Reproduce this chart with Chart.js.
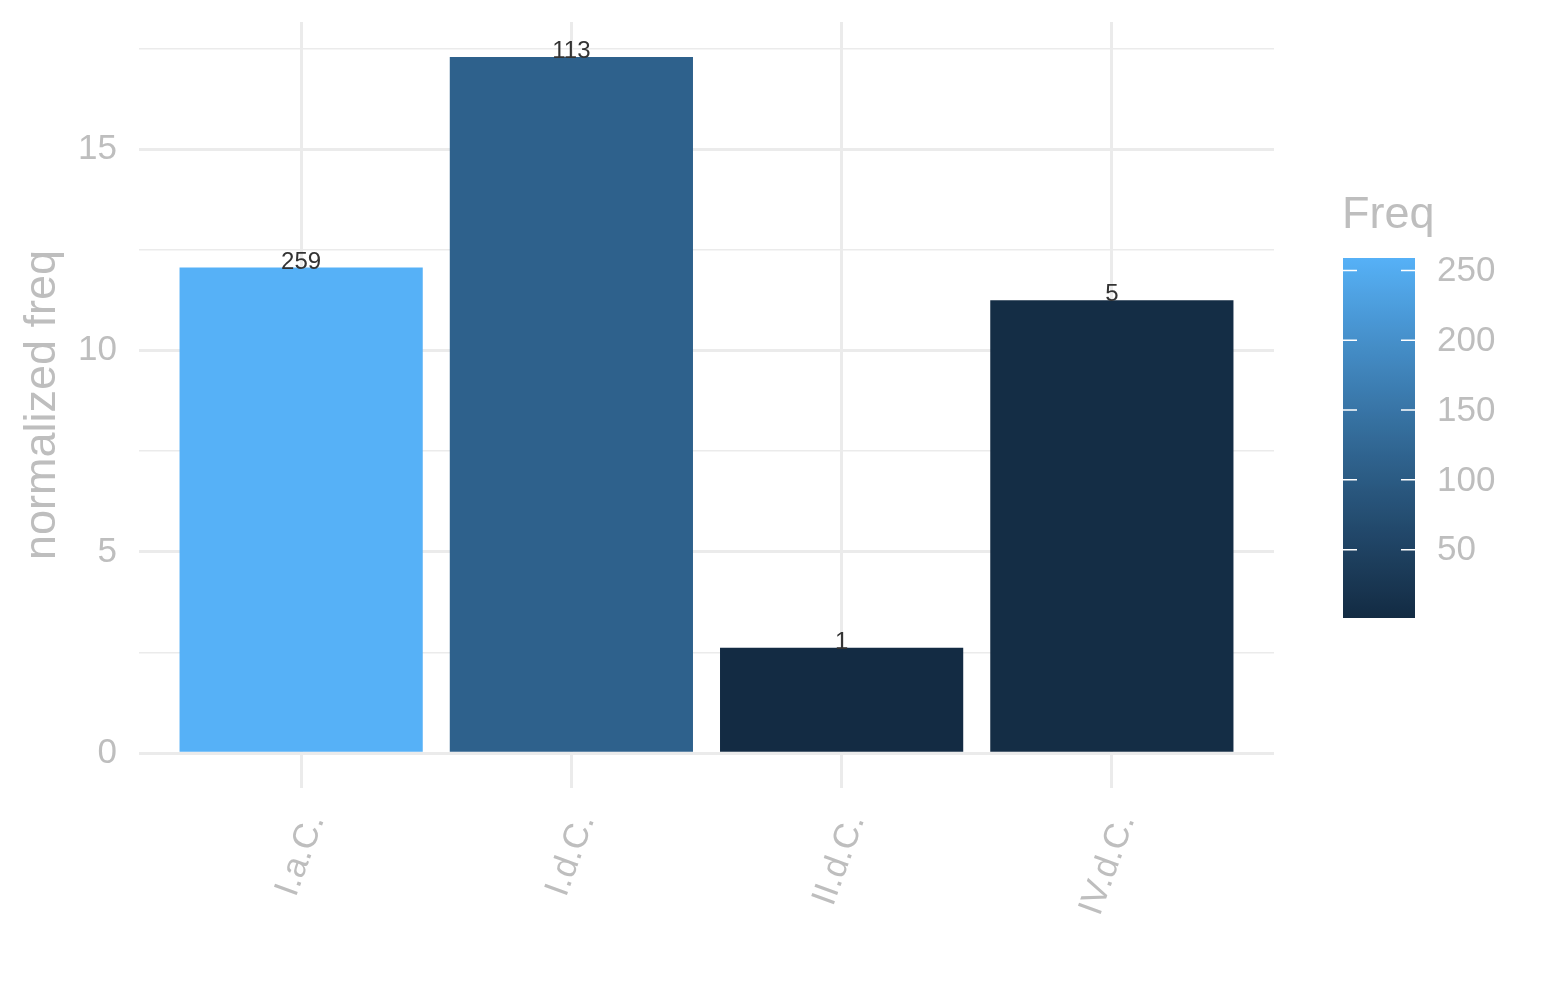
<!DOCTYPE html>
<html>
<head>
<meta charset="utf-8">
<script src="https://cdn.jsdelivr.net/npm/chart.js@4"></script>
<style>
  body { margin: 0; background: #fff; }
  #wrap { width: 1545px; height: 1000px; }
</style>
</head>
<body>
<div id="wrap"><canvas id="freqChart"></canvas></div>
<script>
'use strict'

const categories = ['I.a.C.', 'I.d.C.', 'II.d.C.', 'IV.d.C.'];
const normFreq = [12.06, 17.29, 2.62, 11.25];
const freq = [259, 113, 1, 5];
const yTicks = [0, 2.5, 5, 7.5, 10, 12.5, 15, 17.5];
const legendTicks = [50, 100, 150, 200, 250];

const GREY = '#BEBEBE';
const FONT = '"Liberation Sans", Arial, Helvetica, sans-serif';

/* colour gradient like scale_fill_gradient (lab space) */
const lowCol = [0x13, 0x2B, 0x43];
const highCol = [0x56, 0xB1, 0xF7];

function toLin(c){ c /= 255; return c <= 0.04045 ? c / 12.92 : Math.pow((c + 0.055) / 1.055, 2.4); }
function fromLin(c){ c = c <= 0.0031308 ? 12.92 * c : 1.055 * Math.pow(c, 1 / 2.4) - 0.055; return Math.round(Math.max(0, Math.min(1, c)) * 255); }
function rgb2lab(rgb){
  const r = toLin(rgb[0]), g = toLin(rgb[1]), b = toLin(rgb[2]);
  let x = (r * 0.4124 + g * 0.3576 + b * 0.1805) / 0.95047;
  let y = (r * 0.2126 + g * 0.7152 + b * 0.0722);
  let z = (r * 0.0193 + g * 0.1192 + b * 0.9505) / 1.08883;
  const f = t => t > 0.008856 ? Math.cbrt(t) : 7.787 * t + 16 / 116;
  x = f(x); y = f(y); z = f(z);
  return [116 * y - 16, 500 * (x - y), 200 * (y - z)];
}
function lab2rgb(lab){
  let y = (lab[0] + 16) / 116, x = lab[1] / 500 + y, z = y - lab[2] / 200;
  const fi = t => t * t * t > 0.008856 ? t * t * t : (t - 16 / 116) / 7.787;
  x = fi(x) * 0.95047; y = fi(y); z = fi(z) * 1.08883;
  const r = x * 3.2406 + y * -1.5372 + z * -0.4986;
  const g = x * -0.9689 + y * 1.8758 + z * 0.0415;
  const b = x * 0.0557 + y * -0.2040 + z * 1.0570;
  return 'rgb(' + fromLin(r) + ',' + fromLin(g) + ',' + fromLin(b) + ')';
}
const labLow = rgb2lab(lowCol), labHigh = rgb2lab(highCol);
const fMin = Math.min(...freq), fMax = Math.max(...freq);
function fillFor(v){
  const t = (v - fMin) / (fMax - fMin);
  return lab2rgb(labLow.map((l, i) => l + (labHigh[i] - l) * t));
}

/* labels above bars */
const barLabels = {
  id: 'barLabels',
  afterDatasetsDraw(chart){
    const ctx = chart.ctx;
    ctx.save();
    ctx.font = '24px ' + FONT;
    ctx.fillStyle = '#333333';
    ctx.textAlign = 'center';
    ctx.textBaseline = 'alphabetic';
    chart.getDatasetMeta(0).data.forEach((bar, i) => {
      ctx.fillText(String(freq[i]), bar.x, bar.y + 1);
    });
    ctx.restore();
  }
};

/* colourbar legend */
const colourBar = {
  id: 'colourBar',
  afterDraw(chart){
    const ctx = chart.ctx;
    const x0 = 1343, w = 72, top = 258, bot = 618;
    const yOf = v => bot - (v - fMin) / (fMax - fMin) * (bot - top);
    ctx.save();
    const grad = ctx.createLinearGradient(0, bot, 0, top);
    for (let k = 0; k <= 40; k++){
      grad.addColorStop(k / 40, fillFor(fMin + (fMax - fMin) * k / 40));
    }
    ctx.fillStyle = grad;
    ctx.fillRect(x0, top, w, bot - top);

    ctx.strokeStyle = '#ffffff';
    ctx.lineWidth = 1.5;
    ctx.font = '35px ' + FONT;
    ctx.fillStyle = GREY;
    ctx.textAlign = 'left';
    ctx.textBaseline = 'middle';
    legendTicks.forEach(v => {
      const y = yOf(v);
      ctx.beginPath();
      ctx.moveTo(x0, y); ctx.lineTo(x0 + 14, y);
      ctx.moveTo(x0 + w - 14, y); ctx.lineTo(x0 + w, y);
      ctx.stroke();
      ctx.fillText(String(v), 1437, y + 1);
    });

    ctx.font = '45px ' + FONT;
    ctx.fillText('Freq', 1342, 216);
    ctx.restore();
  }
};

const ctx = document.getElementById('freqChart').getContext('2d');

const config = {
  type: 'bar',
  data: {
    datasets: [{
      label: 'normalized freq',
      data: categories.map((c, i) => ({ x: i + 1, y: normFreq[i] })),
      backgroundColor: freq.map(fillFor),
      borderWidth: 0,
      categoryPercentage: 0.9,
      barPercentage: 1.0
    }]
  },
  options: {
    responsive: true,
    maintainAspectRatio: false,
    devicePixelRatio: 1,
    animation: false,
    layout: { padding: { top: 22, right: 271, left: 0, bottom: 0 } },
    plugins: { legend: { display: false }, tooltip: { enabled: false } },
    scales: {
      x: {
        type: 'linear',
        min: 0.4,
        max: 4.6,
        offset: false,
        afterBuildTicks: s => { s.ticks = categories.map((c, i) => ({ value: i + 1 })); },
        afterFit: s => { s.height = 212; s.paddingLeft = 0; s.paddingRight = 0; },
        grid: { color: '#EBEBEB', lineWidth: 3, drawTicks: false, offset: false },
        border: { display: false },
        ticks: {
          autoSkip: false,
          minRotation: 70,
          maxRotation: 70,
          padding: 21,
          labelOffset: 14,
          color: GREY,
          font: { family: FONT, size: 35 },
          callback: v => categories[v - 1]
        }
      },
      y: {
        min: -0.865,
        max: 18.16,
        afterBuildTicks: s => { s.ticks = yTicks.map(v => ({ value: v })); },
        afterFit: s => { s.width = 139; s.paddingTop = 0; s.paddingBottom = 0; },
        grid: {
          color: '#EBEBEB',
          lineWidth: c => (c.tick && c.tick.value % 5 === 0) ? 3 : 1.5,
          drawTicks: false
        },
        border: { display: false },
        ticks: {
          padding: 22,
          color: GREY,
          font: { family: FONT, size: 35 },
          callback: v => (v % 5 === 0 ? String(v) : '')
        },
        title: {
          display: true,
          text: 'normalized freq',
          color: GREY,
          font: { family: FONT, size: 45 },
          padding: { top: 16, bottom: 0 }
        }
      }
    }
  },
  plugins: [barLabels, colourBar]
};

const chart = new Chart(ctx, config);
</script>
</body>
</html>
